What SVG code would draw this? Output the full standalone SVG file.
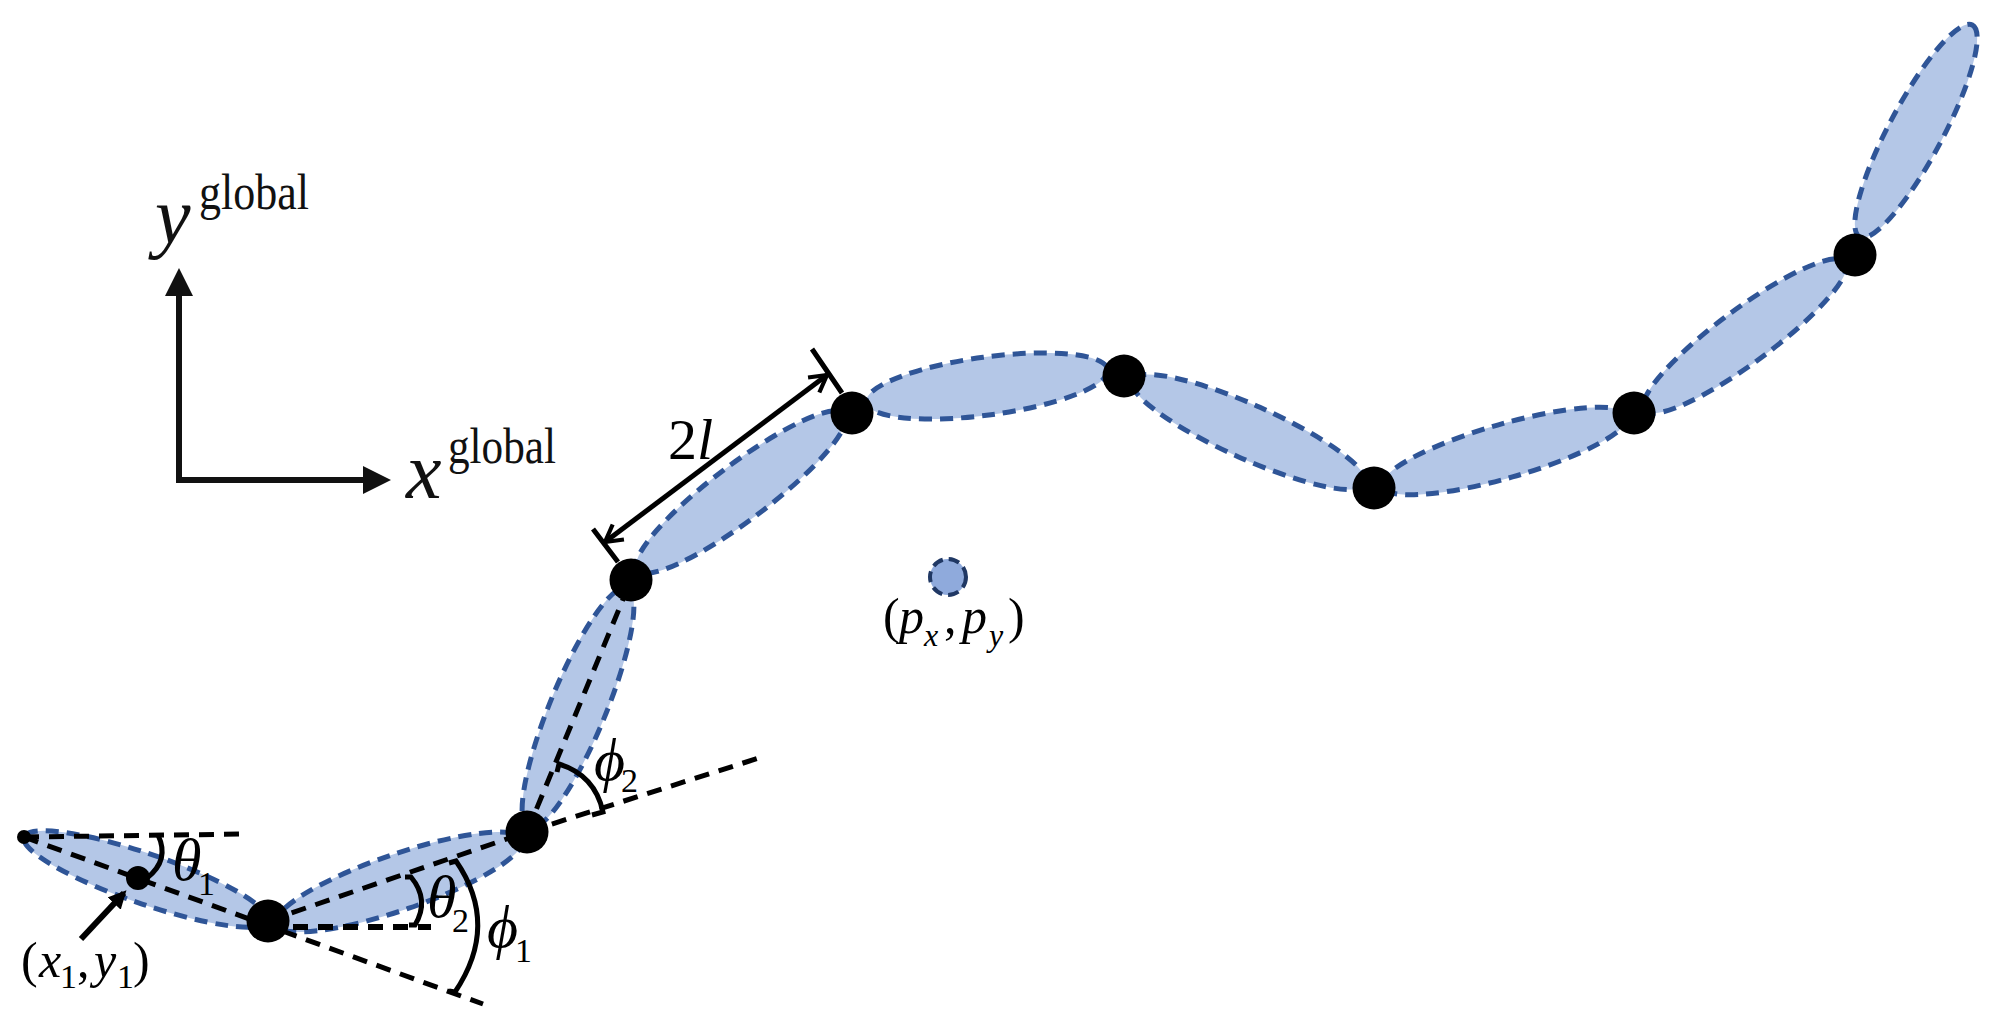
<svg xmlns="http://www.w3.org/2000/svg" width="1991" height="1026" viewBox="0 0 1991 1026">
<style>
.link{fill:#b4c7e7;stroke:#2f5597;stroke-width:5;stroke-dasharray:13 8}
.joint{fill:#000}
.dash{fill:none;stroke:#000;stroke-width:5;stroke-dasharray:15 10}
.solid{fill:none;stroke:#000;stroke-width:5}
.axis{fill:none;stroke:#111;stroke-width:6}
text{font-family:"Liberation Serif","Times New Roman",serif;fill:#000}
.i{font-style:italic}
.m{font-size:50px}.s{font-size:34px;font-style:normal}.si{font-size:32px;font-style:italic}.g{font-size:50px;fill:#111}.b{font-size:80px;fill:#111}.a{font-size:60px}
</style>
<defs>
<marker id="open" viewBox="0 0 12 12" refX="10" refY="6" markerWidth="5" markerHeight="5" orient="auto-start-reverse"><path d="M2,1.5 L10,6 L2,10.5" fill="none" stroke="#000" stroke-width="2"/></marker>
<marker id="filled" viewBox="0 0 10 10" refX="8" refY="5" markerWidth="3" markerHeight="3" orient="auto"><path d="M0,0 L10,5 L0,10 Z" fill="#000"/></marker>
</defs>
<g id="links">
<ellipse class="link" cx="146" cy="879" rx="129" ry="25" transform="rotate(19 146 879)"/>
<ellipse class="link" cx="399" cy="882" rx="130" ry="28" transform="rotate(-19 399 882)"/>
<ellipse class="link" cx="578" cy="708" rx="130" ry="28" transform="rotate(-67.6 578 708)"/>
<ellipse class="link" cx="741" cy="492" rx="130" ry="28" transform="rotate(-37 741 492)"/>
<ellipse class="link" cx="987" cy="386" rx="122" ry="29" transform="rotate(-7.7 987 386)"/>
<ellipse class="link" cx="1249" cy="432" rx="128" ry="27" transform="rotate(24 1249 432)"/>
<ellipse class="link" cx="1505" cy="451" rx="128" ry="27" transform="rotate(-16 1505 451)"/>
<ellipse class="link" cx="1745" cy="336" rx="125" ry="27" transform="rotate(-36.4 1745 336)"/>
<ellipse class="link" cx="1916" cy="131" rx="120" ry="27" transform="rotate(-62 1916 131)"/>
</g>
<g id="connectors">
<path class="dash" d="M24,837 L247,834"/>
<path class="dash" d="M24,837 L483,1004"/>
<path class="dash" d="M268,921 L527,832 L762,757"/>
<path class="dash" d="M268,927 L431,927" style="stroke-width:6"/>
<path class="dash" d="M527,832 L631,580"/>
<path class="solid" d="M158,835 Q170,860 147,878"/>
<path class="solid" d="M405,877 L411,877 Q430,900 415,925 L409,925"/>
<path class="solid" d="M449,863 L456,861 Q500,925 455,992 L449,991"/>
<path class="solid" d="M557,772 L559,764 Q595,775 603,812 L592,815"/>
<path class="solid" d="M81,939 L124,893" style="stroke-width:6" marker-end="url(#filled)"/>
<path class="axis" d="M179,296 L179,480 L363,480"/>
<path d="M179,268 L193,296 L165,296 Z M391,480 L363,466 L363,494 Z" fill="#111"/>
<path class="solid" d="M827,375 L605,542" marker-start="url(#open)" marker-end="url(#open)"/>
<path class="solid" d="M812,349 L842,393 M593,529 L618,562"/>
</g>
<g id="node-tip"><circle class="joint" cx="24" cy="837" r="7"/></g>
<g id="node-center"><circle class="joint" cx="138" cy="878" r="12"/></g>
<g id="node-1"><circle class="joint" cx="268" cy="921" r="21.5"/></g>
<g id="node-2"><circle class="joint" cx="527" cy="832" r="21.5"/></g>
<g id="node-3"><circle class="joint" cx="631" cy="580" r="21.5"/></g>
<g id="node-4"><circle class="joint" cx="852" cy="413" r="21.5"/></g>
<g id="node-5"><circle class="joint" cx="1124" cy="376" r="21.5"/></g>
<g id="node-6"><circle class="joint" cx="1374" cy="488" r="21.5"/></g>
<g id="node-7"><circle class="joint" cx="1634" cy="413" r="21.5"/></g>
<g id="node-8"><circle class="joint" cx="1855" cy="255" r="21.5"/></g>
<g id="point-p"><circle cx="948" cy="577" r="18" fill="#8faadc" stroke="#203864" stroke-width="4" stroke-dasharray="11 6"/></g>
<g id="labels">
<text class="b i" x="155" y="243">y</text><text class="g" x="199" y="209" textLength="110" lengthAdjust="spacingAndGlyphs">global</text>
<text class="b i" x="406" y="498">x</text><text class="g" x="448" y="463" textLength="108" lengthAdjust="spacingAndGlyphs">global</text>
<text font-size="58" x="668" y="459">2<tspan class="i">l</tspan></text>
<text class="m" x="883" y="633">(<tspan class="i" x="899">p</tspan><tspan class="si" x="924" y="646">x</tspan><tspan x="944" y="633">,</tspan><tspan class="i" x="962">p</tspan><tspan class="si" x="989" y="646">y</tspan><tspan x="1008" y="633">)</tspan></text>
<text class="a i" x="172" y="880">θ<tspan class="s" x="198" y="895">1</tspan></text>
<text class="a i" x="427" y="917">θ<tspan class="s" x="452" y="932">2</tspan></text>
<text class="a i" x="487" y="947">ϕ<tspan class="s" x="515" y="962">1</tspan></text>
<text class="a i" x="594" y="780">ϕ<tspan class="s" x="621" y="792">2</tspan></text>
<text class="m" x="21" y="977">(<tspan class="i" x="39">x</tspan><tspan class="s" x="60" y="988">1</tspan><tspan x="77" y="977">,</tspan><tspan class="i" x="94">y</tspan><tspan class="s" x="117" y="988">1</tspan><tspan x="133" y="977">)</tspan></text>
</g>
</svg>
